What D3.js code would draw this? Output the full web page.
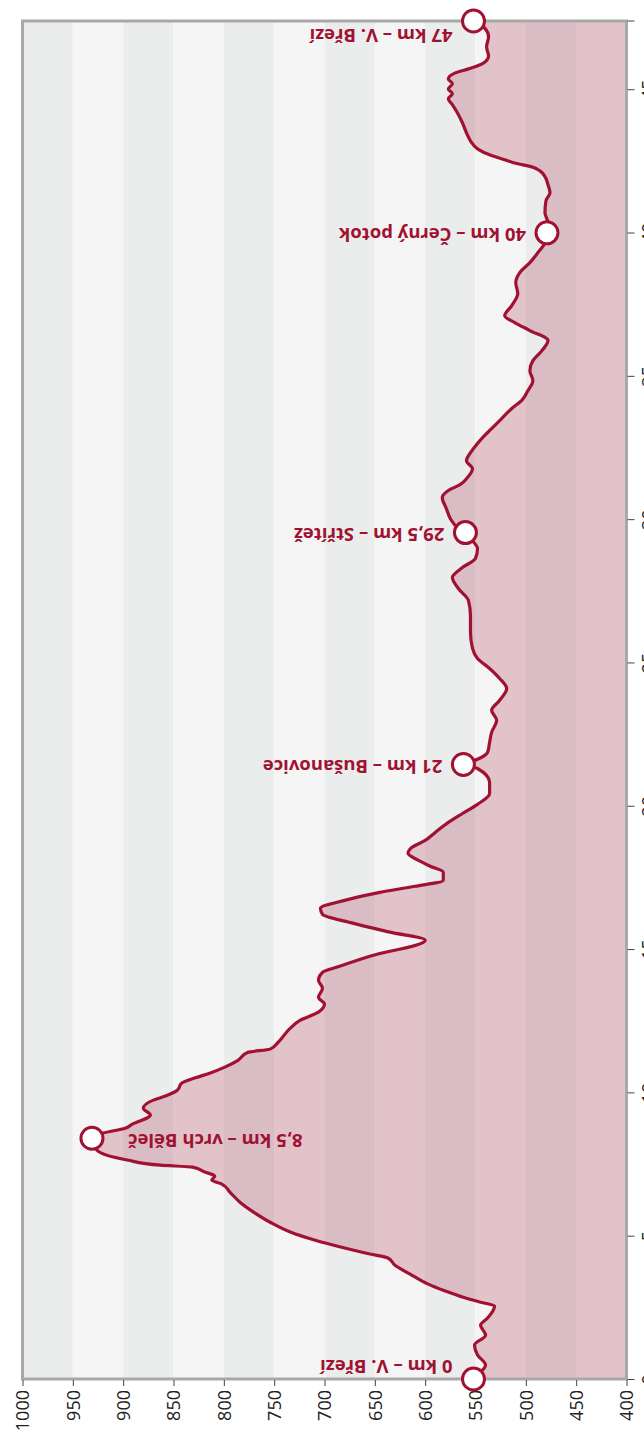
<!doctype html>
<html>
<head>
<meta charset="utf-8">
<style>
  body { margin: 0; background: #fff; }
  .marker-label { font-family: "Open Sans", sans-serif; font-weight: bold; font-size: 18.5px; fill: #a11131; }
  .axis text { font-family: "Open Sans", sans-serif; font-size: 18px; fill: #222; }
  .axis line { stroke: #444; }
  .axis path { display: none; }
</style>
<script src="https://d3js.org/d3.v7.min.js"></script>
</head>
<body>
<svg id="chart" width="644" height="1444"></svg>
<script>
// distance (km) and elevation (m) along the route
var kmVals = [0, 0.24, 0.49, 0.84, 1.19, 1.53, 1.88, 2.13, 2.55, 2.68, 2.86, 3.07, 3.31, 3.66, 3.97, 4.22, 4.36, 4.57, 4.85, 5.13,
  5.47, 5.79, 6.17, 6.52, 6.80, 6.94, 7.08, 7.22, 7.39, 7.46, 7.64, 7.98, 8.40, 8.58, 8.75, 8.89, 9.21, 9.45, 9.73, 9.87,
  10.08, 10.32, 10.50, 10.67, 10.88, 11.12, 11.40, 11.51, 11.75, 12.24, 12.52, 12.80, 13.08, 13.32, 13.63, 13.91, 14.19, 14.40, 14.75, 15.31,
  15.59, 15.93, 16.21, 16.42, 16.70, 16.98, 17.19, 17.40, 17.68, 17.89, 18.10, 18.34, 18.55, 18.79, 19.07, 19.42, 19.73, 20.05, 20.43, 20.82,
  21.30, 21.44, 21.62, 21.86, 22.21, 22.56, 22.98, 23.33, 23.68, 24.09, 24.44, 24.79, 25.14, 25.49, 26.05, 26.64, 27.16, 27.58, 27.96, 28.31,
  28.63, 28.97, 29.32, 29.53, 29.71, 30.02, 30.37, 30.75, 31.00, 31.21, 31.45, 31.76, 32.04, 32.32, 32.60, 32.88, 33.16, 33.51, 33.86, 34.14,
  34.48, 34.83, 35.18, 35.53, 35.88, 36.23, 36.58, 36.86, 37.10, 37.45, 37.87, 38.25, 38.60, 38.95, 39.30, 39.64, 39.99, 40.34, 40.69, 41.11,
  41.39, 41.67, 41.95, 42.15, 42.29, 42.40, 42.54, 42.71, 42.92, 43.20, 43.48, 43.83, 44.18, 44.46, 44.67, 44.84, 45.01, 45.19, 45.36, 45.57,
  45.71, 45.89, 46.16, 46.48, 46.83, 47.14, 47.38];
var eleVals = [552, 545, 540, 548, 551, 540, 545, 538, 531, 545, 563, 580, 597, 615, 630, 637, 655, 680, 710, 734,
  754, 769, 784, 794, 802, 812, 809, 819, 831, 863, 896, 926, 931, 920, 898, 891, 873, 880, 870, 858,
  846, 842, 829, 814, 799, 786, 776, 754, 746, 734, 724, 706, 700, 706, 702, 706, 702, 685, 655, 600,
  635, 675, 702, 704, 680, 645, 610, 582, 582, 595, 607, 617, 613, 600, 590, 577, 563, 548, 536, 536,
  548, 562, 548, 538, 536, 534, 529, 534, 526, 519, 526, 536, 548, 553, 555, 555, 557, 567, 573, 563,
  550, 548, 555, 560, 568, 575, 579, 583, 577, 565, 558, 553, 559, 555, 549, 542, 534, 524, 514, 504,
  498, 493, 496, 493, 484, 478, 496, 511, 521, 514, 508, 510, 506, 496, 488, 481, 479, 478, 481, 480,
  476, 478, 481, 486, 494, 508, 521, 536, 548, 555, 559, 563, 568, 573, 577, 573, 577, 573, 577, 570,
  557, 543, 537, 539, 537, 541, 552];

var markerKm = [0, 8.40, 21.44, 29.53, 39.99, 47.38];
var markerNames = ["0 km – V. Březí", "8,5 km – vrch Běleč", "21 km – Bušanovice", "29,5 km – Střítež", "40 km – Černý potok", "47 km – V. Březí"];

var eleTicks = [1000, 950, 900, 850, 800, 750, 700, 650, 600, 550, 500, 450, 400];
var kmTicks = [0, 5, 10, 15, 20, 25, 30, 35, 40, 45];

var red = "#a11131";

var svg = d3.select("#chart"),
    pLeft = 22.5, pRight = 626.5, pTop = 21, pBottom = 1379;

var data = kmVals.map(function(k, i) { return { km: k, ele: eleVals[i] }; });

var x = d3.scaleLinear().domain([1000, 400]).range([pLeft, pRight]);
var y = d3.scaleLinear().domain([0, d3.max(kmVals)]).range([pBottom, pTop]);

// alternating background bands
var bands = eleTicks.slice(0, -1);
svg.selectAll(".band")
   .data(bands)
   .enter().append("rect")
   .attr("x", function(d) { return x(d); })
   .attr("y", pTop)
   .attr("width", function(d) { return x(d - 50) - x(d); })
   .attr("height", pBottom - pTop)
   .attr("fill", function(d, i) { return i % 2 == 0 ? "#ebeded" : "#f5f5f5"; });

var area = d3.area()
    .y(function(d) { return y(d.km); })
    .x0(x(400))
    .x1(function(d) { return x(d.ele); })
    .curve(d3.curveMonotoneY);

var line = d3.line()
    .y(function(d) { return y(d.km); })
    .x(function(d) { return x(d.ele); })
    .curve(d3.curveMonotoneY);

svg.append("path")
   .datum(data)
   .attr("d", area)
   .attr("fill", red)
   .attr("fill-opacity", 0.22);

svg.append("path")
   .datum(data)
   .attr("d", line)
   .attr("fill", "none")
   .attr("stroke", red)
   .attr("stroke-width", 3.2)
   .attr("stroke-linejoin", "round");

// frame
svg.append("rect")
   .attr("x", pLeft).attr("y", pTop)
   .attr("width", pRight - pLeft).attr("height", pBottom - pTop)
   .attr("fill", "none")
   .attr("stroke", "#a7a9a9")
   .attr("stroke-width", 3);

// elevation axis (bottom)
var gx = svg.append("g")
   .attr("class", "axis")
   .attr("transform", "translate(0," + (pBottom + 1) + ")")
   .call(d3.axisBottom(x).tickValues(eleTicks).tickSize(6).tickSizeOuter(0)
      .tickFormat(function(d) { return d; }));
gx.selectAll("text")
   .attr("transform", "rotate(-90)")
   .attr("text-anchor", "end")
   .attr("x", -10)
   .attr("y", 0)
   .attr("dy", "0.35em");

// distance axis (right), labels mostly fall past the page edge
var gy = svg.append("g")
   .attr("class", "axis")
   .attr("transform", "translate(" + (pRight + 1) + ",0)")
   .call(d3.axisRight(y).tickValues(kmTicks).tickSize(7).tickSizeOuter(0)
      .tickFormat(function(d) { return d; }));
gy.append("line")
   .attr("x1", 0).attr("x2", 7)
   .attr("y1", pTop).attr("y2", pTop)
   .attr("stroke", "#444");
gy.selectAll("text")
   .attr("transform", "rotate(-90)")
   .attr("text-anchor", "middle")
   .attr("x", 0)
   .attr("y", 21)
   .attr("dy", "0.35em");

// markers
var markers = markerKm.map(function(k, i) {
    var p = data.find(function(d) { return d.km == k; });
    return { km: k, ele: p.ele, name: markerNames[i] };
});

var mg = svg.selectAll(".marker")
   .data(markers)
   .enter().append("g")
   .attr("class", "marker");

mg.append("text")
   .attr("class", "marker-label")
   .attr("transform", function(d) {
       var cx = x(d.ele), cy = Math.max(pTop + 14, Math.min(pBottom - 13, y(d.km) + 2));
       var tx = d.ele > 800 ? cx + 36 : cx - 21;
       return "translate(" + tx + "," + cy + ") rotate(180)";
   })
   .attr("text-anchor", function(d) { return d.ele > 800 ? "end" : "start"; })
   .attr("dy", "0.35em")
   .text(function(d) { return d.name; });

mg.append("circle")
   .attr("cx", function(d) { return x(d.ele); })
   .attr("cy", function(d) { return y(d.km); })
   .attr("r", 11)
   .attr("fill", "#fff")
   .attr("stroke", red)
   .attr("stroke-width", 3);
</script>
</body>
</html>
